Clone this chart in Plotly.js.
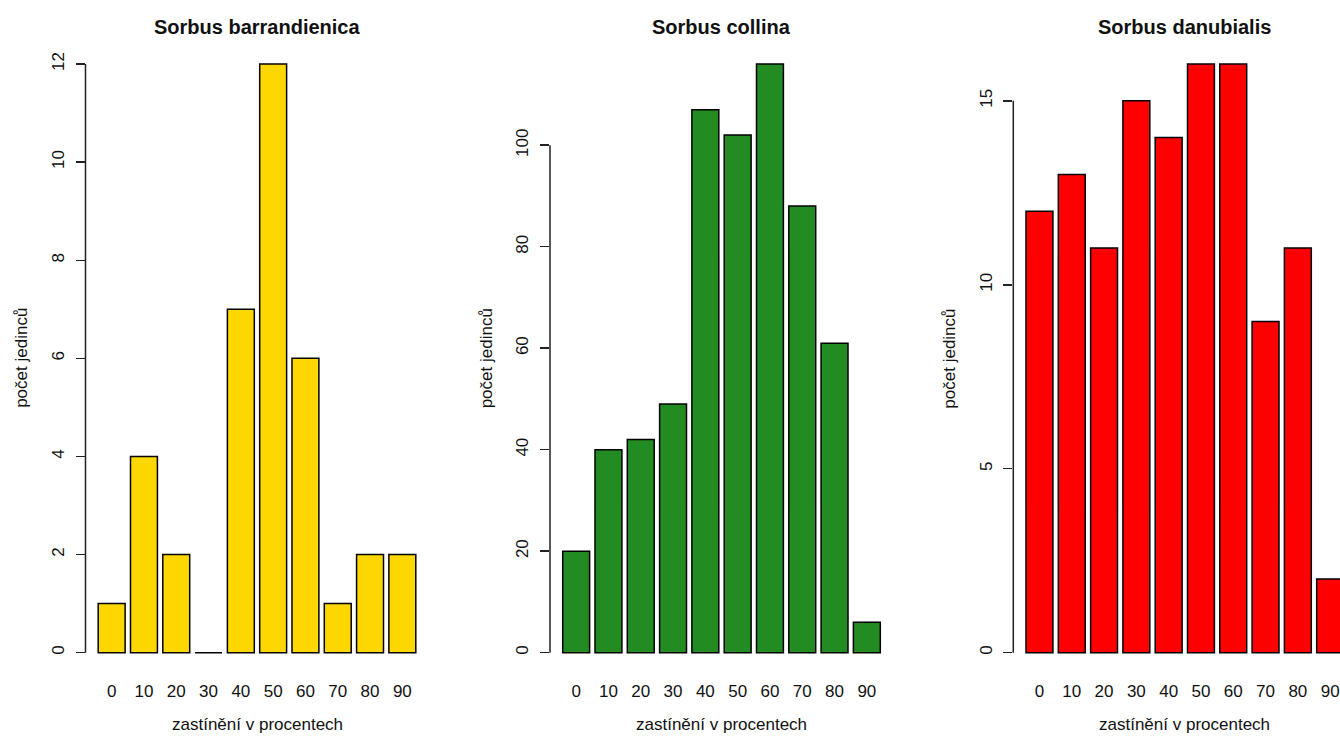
<!DOCTYPE html>
<html>
<head>
<meta charset="utf-8">
<script src="https://cdn.plot.ly/plotly-3.0.1.min.js"></script>
<style>
  html, body { margin: 0; padding: 0; overflow: hidden; background: #ffffff; }
  #chart { width: 1392px; height: 736px; }
</style>
</head>
<body>
<div id="chart"></div>
<script>
// Shading classes (percent) on the x axis
const shadeCategories = ['0', '10', '20', '30', '40', '50', '60', '70', '80', '90'];

// Number of individuals per shading class
const barrandienicaCounts = [1, 4, 2, 0, 7, 12, 6, 1, 2, 2];
const collinaCounts = [20, 40, 42, 49, 107, 102, 116, 88, 61, 6];
const danubialisCounts = [12, 13, 11, 15, 14, 16, 16, 9, 11, 2];

const speciesNames = ['Sorbus barrandienica', 'Sorbus collina', 'Sorbus danubialis'];
const speciesCounts = [barrandienicaCounts, collinaCounts, danubialisCounts];
const barColors = ['#FFD700', '#228B22', '#FF0000'];

// y axis tick spacing and last labelled tick per panel
const yTickSteps = [2, 20, 5];
const yTickTops = [12, 100, 15];

const xAxisTitle = 'zastínění v procentech';
const yAxisTitle = 'počet jedinců';

// ---- layout geometry (pixels of the 1392 x 736 canvas) ----
const W = 1392, H = 736;
const panelLeft = [85.5, 550, 1013.3];
const panelWidth = 343;
const plotTop = 40.5, plotBottom = 676.2;
const px = v => v / W;
const py = v => 1 - v / H;

const FONT = 'Liberation Sans, Arial, sans-serif';
const INK = '#111111';

const data = [];
const layout = {
  width: W,
  height: H,
  margin: { l: 0, r: 0, t: 0, b: 0, pad: 0 },
  paper_bgcolor: '#ffffff',
  plot_bgcolor: '#ffffff',
  showlegend: false,
  bargap: 0.2 / 1.2,
  font: { family: FONT, size: 17, color: INK },
  annotations: [],
  shapes: []
};

speciesCounts.forEach((counts, i) => {
  const n = i + 1;
  const xa = 'x' + (n === 1 ? '' : n);
  const ya = 'y' + (n === 1 ? '' : n);
  const maxVal = Math.max(...counts);

  const tickVals = [];
  for (let v = 0; v <= yTickTops[i]; v += yTickSteps[i]) tickVals.push(v);

  data.push({
    type: 'bar',
    x: shadeCategories,
    y: counts,
    xaxis: xa,
    yaxis: ya,
    marker: { color: barColors[i], line: { color: '#000000', width: 1.5 } },
    hoverinfo: 'x+y'
  });

  layout['xaxis' + (n === 1 ? '' : n)] = {
    domain: [px(panelLeft[i]), px(panelLeft[i] + panelWidth)],
    anchor: ya,
    type: 'category',
    range: [-0.81, 9.81],
    showgrid: false,
    zeroline: false,
    showline: false,
    ticks: '',
    ticklabelstandoff: 3,
    tickfont: { family: FONT, size: 17, color: INK },
    fixedrange: true
  };

  layout['yaxis' + (n === 1 ? '' : n)] = {
    domain: [py(plotBottom), py(plotTop)],
    anchor: xa,
    range: [-0.04 * maxVal, 1.04 * maxVal],
    tickmode: 'array',
    tickvals: tickVals,
    ticktext: tickVals.map(String),
    tickangle: -90,
    showgrid: false,
    zeroline: false,
    showline: false,
    ticks: 'outside',
    ticklen: 9,
    tickwidth: 1.5,
    tickcolor: '#222222',
    ticklabelstandoff: 5,
    tickfont: { family: FONT, size: 17, color: INK },
    fixedrange: true
  };

  // y axis line runs only between the first and last tick
  layout.shapes.push({
    type: 'line',
    xref: xa + ' domain',
    yref: ya,
    x0: 0, x1: 0,
    y0: 0, y1: yTickTops[i],
    line: { color: '#222222', width: 1.5 }
  });

  const centre = panelLeft[i] + panelWidth / 2;

  // panel title
  layout.annotations.push({
    text: '<b>' + speciesNames[i] + '</b>',
    xref: 'paper', yref: 'paper',
    x: px(centre), y: py(27),
    xanchor: 'center', yanchor: 'middle',
    showarrow: false,
    font: { family: FONT, size: 20, color: INK }
  });

  // x axis title
  layout.annotations.push({
    text: xAxisTitle,
    xref: 'paper', yref: 'paper',
    x: px(centre), y: py(724.5),
    xanchor: 'center', yanchor: 'middle',
    showarrow: false,
    font: { family: FONT, size: 17, color: INK }
  });

  // y axis title
  layout.annotations.push({
    text: yAxisTitle,
    xref: 'paper', yref: 'paper',
    x: px(panelLeft[i] - 64), y: py((plotTop + plotBottom) / 2),
    xanchor: 'center', yanchor: 'middle',
    textangle: -90,
    showarrow: false,
    font: { family: FONT, size: 17, color: INK }
  });
});

Plotly.newPlot('chart', data, layout, { displayModeBar: false, staticPlot: true });
</script>
</body>
</html>
